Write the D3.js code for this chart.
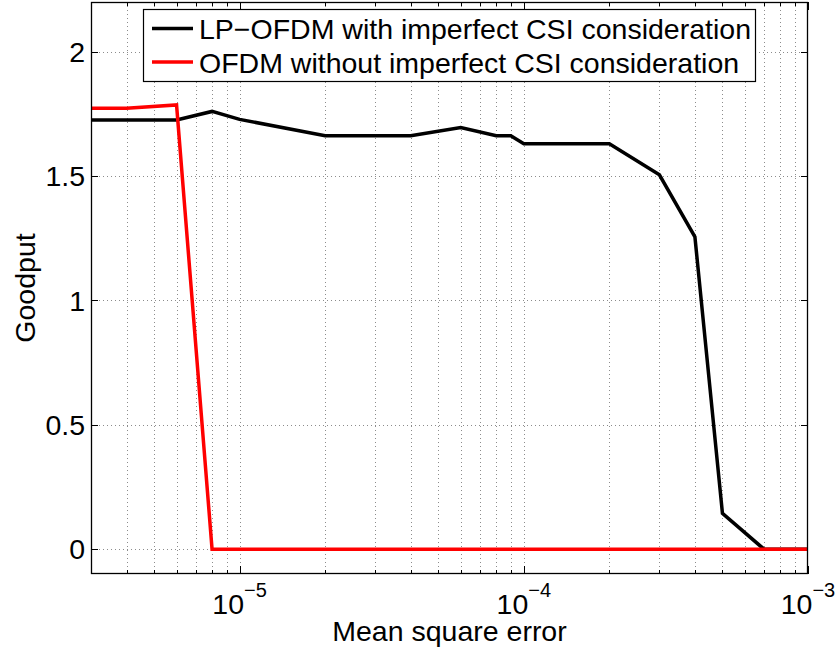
<!DOCTYPE html>
<html>
<head>
<meta charset="utf-8">
<script src="https://cdn.jsdelivr.net/npm/d3@7/dist/d3.min.js"></script>
<style>
  html, body { margin: 0; padding: 0; background: #fff; }
  svg text { font-family: "Liberation Sans", Arial, Helvetica, sans-serif; fill: #000; }
</style>
</head>
<body>
<svg id="chart" width="837" height="651"></svg>
<script>
// ---- data ----
const seriesNames = ["LP\u2212OFDM with imperfect CSI consideration", "OFDM without imperfect CSI consideration"];
const seriesColors = ["#000000", "#ff0000"];
const lpX = [3e-6, 6e-6, 8e-6, 1e-5, 2e-5, 4e-5, 6e-5, 8e-5, 9e-5, 1e-4, 2e-4, 3e-4, 4e-4, 5e-4, 7e-4, 1e-3];
const lpY = [1.726, 1.726, 1.76, 1.728, 1.662, 1.662, 1.695, 1.662, 1.662, 1.63, 1.63, 1.505, 1.256, 0.144, 0, 0];
const ofdmX = [3e-6, 4e-6, 6e-6, 8e-6, 1e-5, 1e-4, 1e-3];
const ofdmY = [1.773, 1.773, 1.786, 0, 0, 0, 0];
const yTicks = [0, 0.5, 1, 1.5, 2];
const yTickLabels = ["0", "0.5", "1", "1.5", "2"];
const xMajorTicks = [1e-5, 1e-4, 1e-3];
const xMajorExps = ["\u22125", "\u22124", "\u22123"];
const xMinorTicks = [4e-6, 5e-6, 6e-6, 7e-6, 8e-6, 9e-6,
                     2e-5, 3e-5, 4e-5, 5e-5, 6e-5, 7e-5, 8e-5, 9e-5,
                     2e-4, 3e-4, 4e-4, 5e-4, 6e-4, 7e-4, 8e-4, 9e-4];
const xLabel = "Mean square error";
const yLabel = "Goodput";

// ---- layout ----
const L = 91, R = 808, T = 2, B = 574;
const svg = d3.select("#chart");
const x = d3.scaleLog().domain([3e-6, 1e-3]).range([L, R]);
const y = d3.scaleLinear().domain([-0.1, 2.2]).range([B, T]);

// grid
const grid = svg.append("g").attr("stroke", "#000").attr("stroke-opacity", 0.45)
  .attr("stroke-width", 1).attr("stroke-dasharray", "1,3").attr("shape-rendering", "crispEdges");
xMinorTicks.concat(xMajorTicks.slice(0, 2)).forEach(v => {
  grid.append("line").attr("x1", Math.round(x(v)) + 0.5).attr("x2", Math.round(x(v)) + 0.5)
    .attr("y1", T).attr("y2", B);
});
yTicks.forEach(v => {
  grid.append("line").attr("y1", Math.round(y(v)) + 0.5).attr("y2", Math.round(y(v)) + 0.5)
    .attr("x1", L).attr("x2", R);
});

// ticks (inside, both sides)
const ticks = svg.append("g").attr("stroke", "#000").attr("stroke-width", 1).attr("shape-rendering", "crispEdges");
yTicks.forEach(v => {
  const yy = Math.round(y(v)) + 0.5;
  ticks.append("line").attr("x1", L).attr("x2", L + 7).attr("y1", yy).attr("y2", yy);
  ticks.append("line").attr("x1", R - 7).attr("x2", R).attr("y1", yy).attr("y2", yy);
});
xMinorTicks.forEach(v => {
  const xx = Math.round(x(v)) + 0.5;
  ticks.append("line").attr("x1", xx).attr("x2", xx).attr("y1", B).attr("y2", B - 4);
  ticks.append("line").attr("x1", xx).attr("x2", xx).attr("y1", T).attr("y2", T + 4);
});
xMajorTicks.forEach(v => {
  const xx = Math.round(x(v)) + 0.5;
  ticks.append("line").attr("x1", xx).attr("x2", xx).attr("y1", B).attr("y2", B - 8);
  ticks.append("line").attr("x1", xx).attr("x2", xx).attr("y1", T).attr("y2", T + 8);
});

// lines
svg.append("clipPath").attr("id", "clip").append("rect")
  .attr("x", L).attr("y", T).attr("width", R - L).attr("height", B - T);
const lineGen = d3.line().x(d => x(d[0])).y(d => y(d[1]));
const seriesData = [d3.zip(lpX, lpY), d3.zip(ofdmX, ofdmY)];
seriesData.forEach((pts, i) => {
  svg.append("path").attr("d", lineGen(pts)).attr("fill", "none")
    .attr("stroke", seriesColors[i]).attr("stroke-width", 3.5)
    .attr("stroke-linejoin", "miter").attr("clip-path", "url(#clip)");
});

// axes box
svg.append("rect").attr("x", L + 0.5).attr("y", T + 0.5).attr("width", R - L - 1).attr("height", B - T - 1)
  .attr("fill", "none").attr("stroke", "#000").attr("stroke-width", 1.3);

// y tick labels
yTicks.forEach((v, i) => {
  svg.append("text").attr("x", L - 6).attr("y", y(v)).attr("dy", "0.36em")
    .attr("text-anchor", "end").attr("font-size", 28.5).text(yTickLabels[i]);
});
// x tick labels (10^n)
xMajorTicks.forEach((v, i) => {
  const t = svg.append("text").attr("x", x(v)).attr("y", 614)
    .attr("text-anchor", "middle").attr("font-size", 28.5);
  t.append("tspan").text("10");
  t.append("tspan").attr("font-size", 20).attr("dy", -17).text(xMajorExps[i]);
});

// axis labels
svg.append("text").attr("x", (L + R) / 2).attr("y", 641).attr("text-anchor", "middle")
  .attr("font-size", 28.5).text(xLabel);
svg.append("text").attr("transform", `translate(35,${(T + B) / 2}) rotate(-90)`)
  .attr("text-anchor", "middle").attr("font-size", 28.5).text(yLabel);

// legend
const lg = svg.append("g");
lg.append("rect").attr("x", 143.5).attr("y", 9.5).attr("width", 612).attr("height", 72)
  .attr("fill", "#fff").attr("stroke", "#000").attr("stroke-width", 1.2);
const rowsY = [28.5, 62];
seriesNames.forEach((name, i) => {
  lg.append("line").attr("x1", 152).attr("x2", 193).attr("y1", rowsY[i]).attr("y2", rowsY[i])
    .attr("stroke", seriesColors[i]).attr("stroke-width", 3.5);
  lg.append("text").attr("x", 199).attr("y", rowsY[i] + 10.5).attr("font-size", 28.5).text(name);
});
</script>
</body>
</html>
